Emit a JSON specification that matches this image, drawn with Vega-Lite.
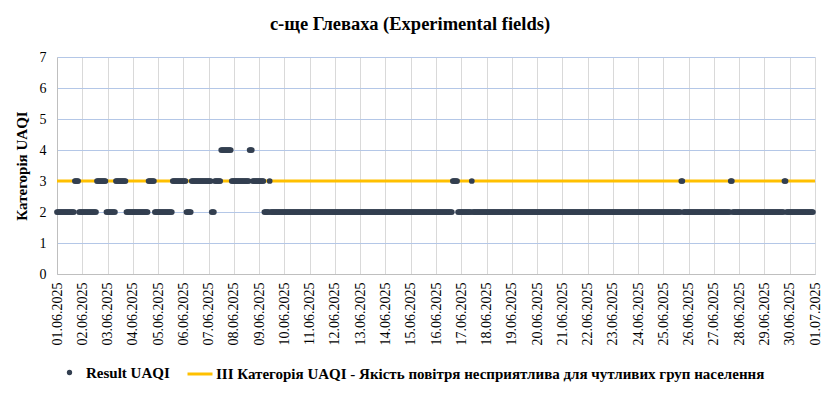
{
"$schema":"https://vega.github.io/schema/vega-lite/v6.json",
"width":758,"height":217,
"autosize":"none",
"padding":{"left":57,"top":57,"right":17,"bottom":120},
"background":"#ffffff",
"title":{"text":"с-ще Глеваха (Experimental fields)","font":"Liberation Serif","fontSize":18.5,"fontWeight":"bold","color":"#000000","offset":17,"dx":-26},
"config":{"view":{"stroke":null},"font":"Liberation Serif",
 "legend":{"labelFont":"Liberation Serif","labelFontWeight":"bold","labelFontSize":15,"labelColor":"#000000","labelLimit":700,"orient":"bottom","direction":"horizontal","offset":15,"symbolOpacity":1},
 "axisY":{"values":[0,1,2,3,4,5,6,7],"labelOverlap":false,"grid":true,"gridColor":"#b4c7e7","domainColor":"#bfbfbf","ticks":false,"labelPadding":11,"labelFont":"Liberation Serif","labelFontSize":14,"labelColor":"#000000","titleFont":"Liberation Serif","titleFontSize":15,"titleFontWeight":"bold","titleColor":"#000000","titlePadding":10}},
"layer":[
{"data":{"values":[{}]},
 "mark":{"type":"rule","strokeWidth":3,"color":"#ffc000"},
 "encoding":{"y":{"datum":3,"type":"quantitative","scale":{"domain":[0,7],"nice":false},"axis":{"title":"Категорія UAQI","values":[0,1,2,3,4,5,6,7]}}}},
{"data":{"format":{"parse":{"t":"date:'%Y%m%d%H'"}},"values":[
{"t":"2025060100","v":2},{"t":"2025060101","v":2},{"t":"2025060102","v":2},{"t":"2025060103","v":2},{"t":"2025060104","v":2},{"t":"2025060105","v":2},{"t":"2025060106","v":2},{"t":"2025060107","v":2},{"t":"2025060108","v":2},{"t":"2025060109","v":2},{"t":"2025060110","v":2},{"t":"2025060111","v":2},{"t":"2025060112","v":2},{"t":"2025060113","v":2},{"t":"2025060114","v":2},{"t":"2025060115","v":2},{"t":"2025060116","v":2},{"t":"2025060117","v":3},{"t":"2025060118","v":3},{"t":"2025060119","v":3},{"t":"2025060120","v":3},{"t":"2025060121","v":2},{"t":"2025060122","v":2},{"t":"2025060123","v":2},
{"t":"2025060200","v":2},{"t":"2025060201","v":2},{"t":"2025060202","v":2},{"t":"2025060203","v":2},{"t":"2025060204","v":2},{"t":"2025060205","v":2},{"t":"2025060206","v":2},{"t":"2025060207","v":2},{"t":"2025060208","v":2},{"t":"2025060209","v":2},{"t":"2025060210","v":2},{"t":"2025060211","v":2},{"t":"2025060212","v":2},{"t":"2025060213","v":2},{"t":"2025060214","v":3},{"t":"2025060215","v":3},{"t":"2025060216","v":3},{"t":"2025060217","v":3},{"t":"2025060218","v":3},{"t":"2025060219","v":3},{"t":"2025060220","v":3},{"t":"2025060221","v":3},{"t":"2025060222","v":3},{"t":"2025060223","v":2},
{"t":"2025060300","v":2},{"t":"2025060301","v":2},{"t":"2025060302","v":2},{"t":"2025060303","v":2},{"t":"2025060304","v":2},{"t":"2025060305","v":2},{"t":"2025060306","v":2},{"t":"2025060307","v":2},{"t":"2025060308","v":3},{"t":"2025060309","v":3},{"t":"2025060310","v":3},{"t":"2025060311","v":3},{"t":"2025060312","v":3},{"t":"2025060313","v":3},{"t":"2025060314","v":3},{"t":"2025060315","v":3},{"t":"2025060316","v":3},{"t":"2025060317","v":3},{"t":"2025060318","v":2},{"t":"2025060319","v":2},{"t":"2025060320","v":2},{"t":"2025060321","v":2},{"t":"2025060322","v":2},{"t":"2025060323","v":2},
{"t":"2025060400","v":2},{"t":"2025060401","v":2},{"t":"2025060402","v":2},{"t":"2025060403","v":2},{"t":"2025060404","v":2},{"t":"2025060405","v":2},{"t":"2025060406","v":2},{"t":"2025060407","v":2},{"t":"2025060408","v":2},{"t":"2025060409","v":2},{"t":"2025060410","v":2},{"t":"2025060411","v":2},{"t":"2025060412","v":2},{"t":"2025060413","v":2},{"t":"2025060414","v":2},{"t":"2025060415","v":3},{"t":"2025060416","v":3},{"t":"2025060417","v":3},{"t":"2025060418","v":3},{"t":"2025060419","v":3},{"t":"2025060420","v":3},{"t":"2025060421","v":2},{"t":"2025060422","v":2},{"t":"2025060423","v":2},
{"t":"2025060500","v":2},{"t":"2025060501","v":2},{"t":"2025060502","v":2},{"t":"2025060503","v":2},{"t":"2025060504","v":2},{"t":"2025060505","v":2},{"t":"2025060506","v":2},{"t":"2025060507","v":2},{"t":"2025060508","v":2},{"t":"2025060509","v":2},{"t":"2025060510","v":2},{"t":"2025060511","v":2},{"t":"2025060512","v":2},{"t":"2025060513","v":2},{"t":"2025060514","v":3},{"t":"2025060515","v":3},{"t":"2025060516","v":3},{"t":"2025060517","v":3},{"t":"2025060518","v":3},{"t":"2025060519","v":3},{"t":"2025060520","v":3},{"t":"2025060521","v":3},{"t":"2025060522","v":3},{"t":"2025060523","v":3},
{"t":"2025060600","v":3},{"t":"2025060601","v":3},{"t":"2025060602","v":3},{"t":"2025060603","v":2},{"t":"2025060604","v":2},{"t":"2025060605","v":2},{"t":"2025060606","v":2},{"t":"2025060607","v":2},{"t":"2025060608","v":3},{"t":"2025060609","v":3},{"t":"2025060610","v":3},{"t":"2025060611","v":3},{"t":"2025060612","v":3},{"t":"2025060613","v":3},{"t":"2025060614","v":3},{"t":"2025060615","v":3},{"t":"2025060616","v":3},{"t":"2025060617","v":3},{"t":"2025060618","v":3},{"t":"2025060619","v":3},{"t":"2025060620","v":3},{"t":"2025060621","v":3},{"t":"2025060622","v":3},{"t":"2025060623","v":3},
{"t":"2025060700","v":3},{"t":"2025060701","v":3},{"t":"2025060702","v":3},{"t":"2025060703","v":2},{"t":"2025060704","v":2},{"t":"2025060705","v":2},{"t":"2025060706","v":3},{"t":"2025060707","v":3},{"t":"2025060708","v":3},{"t":"2025060709","v":3},{"t":"2025060710","v":3},{"t":"2025060711","v":3},{"t":"2025060712","v":4},{"t":"2025060713","v":4},{"t":"2025060714","v":4},{"t":"2025060715","v":4},{"t":"2025060716","v":4},{"t":"2025060717","v":4},{"t":"2025060718","v":4},{"t":"2025060719","v":4},{"t":"2025060720","v":4},{"t":"2025060721","v":4},{"t":"2025060722","v":3},{"t":"2025060723","v":3},
{"t":"2025060800","v":3},{"t":"2025060801","v":3},{"t":"2025060802","v":3},{"t":"2025060803","v":3},{"t":"2025060804","v":3},{"t":"2025060805","v":3},{"t":"2025060806","v":3},{"t":"2025060807","v":3},{"t":"2025060808","v":3},{"t":"2025060809","v":3},{"t":"2025060810","v":3},{"t":"2025060811","v":3},{"t":"2025060812","v":3},{"t":"2025060813","v":3},{"t":"2025060814","v":3},{"t":"2025060815","v":4},{"t":"2025060816","v":4},{"t":"2025060817","v":4},{"t":"2025060818","v":3},{"t":"2025060819","v":3},{"t":"2025060820","v":3},{"t":"2025060821","v":3},{"t":"2025060822","v":3},{"t":"2025060823","v":3},
{"t":"2025060900","v":3},{"t":"2025060901","v":3},{"t":"2025060902","v":3},{"t":"2025060903","v":3},{"t":"2025060904","v":3},{"t":"2025060905","v":2},{"t":"2025060906","v":2},{"t":"2025060907","v":2},{"t":"2025060908","v":2},{"t":"2025060909","v":2},{"t":"2025060910","v":3},{"t":"2025060911","v":2},{"t":"2025060912","v":2},{"t":"2025060913","v":2},{"t":"2025060914","v":2},{"t":"2025060915","v":2},{"t":"2025060916","v":2},{"t":"2025060917","v":2},{"t":"2025060918","v":2},{"t":"2025060919","v":2},{"t":"2025060920","v":2},{"t":"2025060921","v":2},{"t":"2025060922","v":2},{"t":"2025060923","v":2},
{"t":"2025061000","v":2},{"t":"2025061001","v":2},{"t":"2025061002","v":2},{"t":"2025061003","v":2},{"t":"2025061004","v":2},{"t":"2025061005","v":2},{"t":"2025061006","v":2},{"t":"2025061007","v":2},{"t":"2025061008","v":2},{"t":"2025061009","v":2},{"t":"2025061010","v":2},{"t":"2025061011","v":2},{"t":"2025061012","v":2},{"t":"2025061013","v":2},{"t":"2025061014","v":2},{"t":"2025061015","v":2},{"t":"2025061016","v":2},{"t":"2025061017","v":2},{"t":"2025061018","v":2},{"t":"2025061019","v":2},{"t":"2025061020","v":2},{"t":"2025061021","v":2},{"t":"2025061022","v":2},{"t":"2025061023","v":2},
{"t":"2025061100","v":2},{"t":"2025061101","v":2},{"t":"2025061102","v":2},{"t":"2025061103","v":2},{"t":"2025061104","v":2},{"t":"2025061105","v":2},{"t":"2025061106","v":2},{"t":"2025061107","v":2},{"t":"2025061108","v":2},{"t":"2025061109","v":2},{"t":"2025061110","v":2},{"t":"2025061111","v":2},{"t":"2025061112","v":2},{"t":"2025061113","v":2},{"t":"2025061114","v":2},{"t":"2025061115","v":2},{"t":"2025061116","v":2},{"t":"2025061117","v":2},{"t":"2025061118","v":2},{"t":"2025061119","v":2},{"t":"2025061120","v":2},{"t":"2025061121","v":2},{"t":"2025061122","v":2},{"t":"2025061123","v":2},
{"t":"2025061200","v":2},{"t":"2025061201","v":2},{"t":"2025061202","v":2},{"t":"2025061203","v":2},{"t":"2025061204","v":2},{"t":"2025061205","v":2},{"t":"2025061206","v":2},{"t":"2025061207","v":2},{"t":"2025061208","v":2},{"t":"2025061209","v":2},{"t":"2025061210","v":2},{"t":"2025061211","v":2},{"t":"2025061212","v":2},{"t":"2025061213","v":2},{"t":"2025061214","v":2},{"t":"2025061215","v":2},{"t":"2025061216","v":2},{"t":"2025061217","v":2},{"t":"2025061218","v":2},{"t":"2025061219","v":2},{"t":"2025061220","v":2},{"t":"2025061221","v":2},{"t":"2025061222","v":2},{"t":"2025061223","v":2},
{"t":"2025061300","v":2},{"t":"2025061301","v":2},{"t":"2025061302","v":2},{"t":"2025061303","v":2},{"t":"2025061304","v":2},{"t":"2025061305","v":2},{"t":"2025061306","v":2},{"t":"2025061307","v":2},{"t":"2025061308","v":2},{"t":"2025061309","v":2},{"t":"2025061310","v":2},{"t":"2025061311","v":2},{"t":"2025061312","v":2},{"t":"2025061313","v":2},{"t":"2025061314","v":2},{"t":"2025061315","v":2},{"t":"2025061316","v":2},{"t":"2025061317","v":2},{"t":"2025061318","v":2},{"t":"2025061319","v":2},{"t":"2025061320","v":2},{"t":"2025061321","v":2},{"t":"2025061322","v":2},{"t":"2025061323","v":2},
{"t":"2025061400","v":2},{"t":"2025061401","v":2},{"t":"2025061402","v":2},{"t":"2025061403","v":2},{"t":"2025061404","v":2},{"t":"2025061405","v":2},{"t":"2025061406","v":2},{"t":"2025061407","v":2},{"t":"2025061408","v":2},{"t":"2025061409","v":2},{"t":"2025061410","v":2},{"t":"2025061411","v":2},{"t":"2025061412","v":2},{"t":"2025061413","v":2},{"t":"2025061414","v":2},{"t":"2025061415","v":2},{"t":"2025061416","v":2},{"t":"2025061417","v":2},{"t":"2025061418","v":2},{"t":"2025061419","v":2},{"t":"2025061420","v":2},{"t":"2025061421","v":2},{"t":"2025061422","v":2},{"t":"2025061423","v":2},
{"t":"2025061500","v":2},{"t":"2025061501","v":2},{"t":"2025061502","v":2},{"t":"2025061503","v":2},{"t":"2025061504","v":2},{"t":"2025061505","v":2},{"t":"2025061506","v":2},{"t":"2025061507","v":2},{"t":"2025061508","v":2},{"t":"2025061509","v":2},{"t":"2025061510","v":2},{"t":"2025061511","v":2},{"t":"2025061512","v":2},{"t":"2025061513","v":2},{"t":"2025061514","v":2},{"t":"2025061515","v":2},{"t":"2025061516","v":2},{"t":"2025061517","v":2},{"t":"2025061518","v":2},{"t":"2025061519","v":2},{"t":"2025061520","v":2},{"t":"2025061521","v":2},{"t":"2025061522","v":2},{"t":"2025061523","v":2},
{"t":"2025061600","v":2},{"t":"2025061601","v":2},{"t":"2025061602","v":2},{"t":"2025061603","v":2},{"t":"2025061604","v":2},{"t":"2025061605","v":2},{"t":"2025061606","v":2},{"t":"2025061607","v":2},{"t":"2025061608","v":2},{"t":"2025061609","v":2},{"t":"2025061610","v":2},{"t":"2025061611","v":2},{"t":"2025061612","v":2},{"t":"2025061613","v":2},{"t":"2025061614","v":2},{"t":"2025061615","v":2},{"t":"2025061616","v":3},{"t":"2025061617","v":3},{"t":"2025061618","v":3},{"t":"2025061619","v":3},{"t":"2025061620","v":3},{"t":"2025061621","v":2},{"t":"2025061622","v":2},{"t":"2025061623","v":2},
{"t":"2025061700","v":2},{"t":"2025061701","v":2},{"t":"2025061702","v":2},{"t":"2025061703","v":2},{"t":"2025061704","v":2},{"t":"2025061705","v":2},{"t":"2025061706","v":2},{"t":"2025061707","v":2},{"t":"2025061708","v":2},{"t":"2025061709","v":2},{"t":"2025061710","v":3},{"t":"2025061711","v":2},{"t":"2025061712","v":2},{"t":"2025061713","v":2},{"t":"2025061714","v":2},{"t":"2025061715","v":2},{"t":"2025061716","v":2},{"t":"2025061717","v":2},{"t":"2025061718","v":2},{"t":"2025061719","v":2},{"t":"2025061720","v":2},{"t":"2025061721","v":2},{"t":"2025061722","v":2},{"t":"2025061723","v":2},
{"t":"2025061800","v":2},{"t":"2025061801","v":2},{"t":"2025061802","v":2},{"t":"2025061803","v":2},{"t":"2025061804","v":2},{"t":"2025061805","v":2},{"t":"2025061806","v":2},{"t":"2025061807","v":2},{"t":"2025061808","v":2},{"t":"2025061809","v":2},{"t":"2025061810","v":2},{"t":"2025061811","v":2},{"t":"2025061812","v":2},{"t":"2025061813","v":2},{"t":"2025061814","v":2},{"t":"2025061815","v":2},{"t":"2025061816","v":2},{"t":"2025061817","v":2},{"t":"2025061818","v":2},{"t":"2025061819","v":2},{"t":"2025061820","v":2},{"t":"2025061821","v":2},{"t":"2025061822","v":2},{"t":"2025061823","v":2},
{"t":"2025061900","v":2},{"t":"2025061901","v":2},{"t":"2025061902","v":2},{"t":"2025061903","v":2},{"t":"2025061904","v":2},{"t":"2025061905","v":2},{"t":"2025061906","v":2},{"t":"2025061907","v":2},{"t":"2025061908","v":2},{"t":"2025061909","v":2},{"t":"2025061910","v":2},{"t":"2025061911","v":2},{"t":"2025061912","v":2},{"t":"2025061913","v":2},{"t":"2025061914","v":2},{"t":"2025061915","v":2},{"t":"2025061916","v":2},{"t":"2025061917","v":2},{"t":"2025061918","v":2},{"t":"2025061919","v":2},{"t":"2025061920","v":2},{"t":"2025061921","v":2},{"t":"2025061922","v":2},{"t":"2025061923","v":2},
{"t":"2025062000","v":2},{"t":"2025062001","v":2},{"t":"2025062002","v":2},{"t":"2025062003","v":2},{"t":"2025062004","v":2},{"t":"2025062005","v":2},{"t":"2025062006","v":2},{"t":"2025062007","v":2},{"t":"2025062008","v":2},{"t":"2025062009","v":2},{"t":"2025062010","v":2},{"t":"2025062011","v":2},{"t":"2025062012","v":2},{"t":"2025062013","v":2},{"t":"2025062014","v":2},{"t":"2025062015","v":2},{"t":"2025062016","v":2},{"t":"2025062017","v":2},{"t":"2025062018","v":2},{"t":"2025062019","v":2},{"t":"2025062020","v":2},{"t":"2025062021","v":2},{"t":"2025062022","v":2},{"t":"2025062023","v":2},
{"t":"2025062100","v":2},{"t":"2025062101","v":2},{"t":"2025062102","v":2},{"t":"2025062103","v":2},{"t":"2025062104","v":2},{"t":"2025062105","v":2},{"t":"2025062106","v":2},{"t":"2025062107","v":2},{"t":"2025062108","v":2},{"t":"2025062109","v":2},{"t":"2025062110","v":2},{"t":"2025062111","v":2},{"t":"2025062112","v":2},{"t":"2025062113","v":2},{"t":"2025062114","v":2},{"t":"2025062115","v":2},{"t":"2025062116","v":2},{"t":"2025062117","v":2},{"t":"2025062118","v":2},{"t":"2025062119","v":2},{"t":"2025062120","v":2},{"t":"2025062121","v":2},{"t":"2025062122","v":2},{"t":"2025062123","v":2},
{"t":"2025062200","v":2},{"t":"2025062201","v":2},{"t":"2025062202","v":2},{"t":"2025062203","v":2},{"t":"2025062204","v":2},{"t":"2025062205","v":2},{"t":"2025062206","v":2},{"t":"2025062207","v":2},{"t":"2025062208","v":2},{"t":"2025062209","v":2},{"t":"2025062210","v":2},{"t":"2025062211","v":2},{"t":"2025062212","v":2},{"t":"2025062213","v":2},{"t":"2025062214","v":2},{"t":"2025062215","v":2},{"t":"2025062216","v":2},{"t":"2025062217","v":2},{"t":"2025062218","v":2},{"t":"2025062219","v":2},{"t":"2025062220","v":2},{"t":"2025062221","v":2},{"t":"2025062222","v":2},{"t":"2025062223","v":2},
{"t":"2025062300","v":2},{"t":"2025062301","v":2},{"t":"2025062302","v":2},{"t":"2025062303","v":2},{"t":"2025062304","v":2},{"t":"2025062305","v":2},{"t":"2025062306","v":2},{"t":"2025062307","v":2},{"t":"2025062308","v":2},{"t":"2025062309","v":2},{"t":"2025062310","v":2},{"t":"2025062311","v":2},{"t":"2025062312","v":2},{"t":"2025062313","v":2},{"t":"2025062314","v":2},{"t":"2025062315","v":2},{"t":"2025062316","v":2},{"t":"2025062317","v":2},{"t":"2025062318","v":2},{"t":"2025062319","v":2},{"t":"2025062320","v":2},{"t":"2025062321","v":2},{"t":"2025062322","v":2},{"t":"2025062323","v":2},
{"t":"2025062400","v":2},{"t":"2025062401","v":2},{"t":"2025062402","v":2},{"t":"2025062403","v":2},{"t":"2025062404","v":2},{"t":"2025062405","v":2},{"t":"2025062406","v":2},{"t":"2025062407","v":2},{"t":"2025062408","v":2},{"t":"2025062409","v":2},{"t":"2025062410","v":2},{"t":"2025062411","v":2},{"t":"2025062412","v":2},{"t":"2025062413","v":2},{"t":"2025062414","v":2},{"t":"2025062415","v":2},{"t":"2025062416","v":2},{"t":"2025062417","v":2},{"t":"2025062418","v":2},{"t":"2025062419","v":2},{"t":"2025062420","v":2},{"t":"2025062421","v":2},{"t":"2025062422","v":2},{"t":"2025062423","v":2},
{"t":"2025062500","v":2},{"t":"2025062501","v":2},{"t":"2025062502","v":2},{"t":"2025062503","v":2},{"t":"2025062504","v":2},{"t":"2025062505","v":2},{"t":"2025062506","v":2},{"t":"2025062507","v":2},{"t":"2025062508","v":2},{"t":"2025062509","v":2},{"t":"2025062510","v":2},{"t":"2025062511","v":2},{"t":"2025062512","v":2},{"t":"2025062513","v":2},{"t":"2025062514","v":2},{"t":"2025062515","v":2},{"t":"2025062516","v":2},{"t":"2025062517","v":3},{"t":"2025062518","v":3},{"t":"2025062519","v":2},{"t":"2025062520","v":2},{"t":"2025062521","v":2},{"t":"2025062522","v":2},{"t":"2025062523","v":2},
{"t":"2025062600","v":2},{"t":"2025062601","v":2},{"t":"2025062602","v":2},{"t":"2025062603","v":2},{"t":"2025062604","v":2},{"t":"2025062605","v":2},{"t":"2025062606","v":2},{"t":"2025062607","v":2},{"t":"2025062608","v":2},{"t":"2025062609","v":2},{"t":"2025062610","v":2},{"t":"2025062611","v":2},{"t":"2025062612","v":2},{"t":"2025062613","v":2},{"t":"2025062614","v":2},{"t":"2025062615","v":2},{"t":"2025062616","v":2},{"t":"2025062617","v":2},{"t":"2025062618","v":2},{"t":"2025062619","v":2},{"t":"2025062620","v":2},{"t":"2025062621","v":2},{"t":"2025062622","v":2},{"t":"2025062623","v":2},
{"t":"2025062700","v":2},{"t":"2025062701","v":2},{"t":"2025062702","v":2},{"t":"2025062703","v":2},{"t":"2025062704","v":2},{"t":"2025062705","v":2},{"t":"2025062706","v":2},{"t":"2025062707","v":2},{"t":"2025062708","v":2},{"t":"2025062709","v":2},{"t":"2025062710","v":2},{"t":"2025062711","v":2},{"t":"2025062712","v":2},{"t":"2025062713","v":2},{"t":"2025062714","v":2},{"t":"2025062715","v":2},{"t":"2025062716","v":3},{"t":"2025062717","v":3},{"t":"2025062718","v":2},{"t":"2025062719","v":2},{"t":"2025062720","v":2},{"t":"2025062721","v":2},{"t":"2025062722","v":2},{"t":"2025062723","v":2},
{"t":"2025062800","v":2},{"t":"2025062801","v":2},{"t":"2025062802","v":2},{"t":"2025062803","v":2},{"t":"2025062804","v":2},{"t":"2025062805","v":2},{"t":"2025062806","v":2},{"t":"2025062807","v":2},{"t":"2025062808","v":2},{"t":"2025062809","v":2},{"t":"2025062810","v":2},{"t":"2025062811","v":2},{"t":"2025062812","v":2},{"t":"2025062813","v":2},{"t":"2025062814","v":2},{"t":"2025062815","v":2},{"t":"2025062816","v":2},{"t":"2025062817","v":2},{"t":"2025062818","v":2},{"t":"2025062819","v":2},{"t":"2025062820","v":2},{"t":"2025062821","v":2},{"t":"2025062822","v":2},{"t":"2025062823","v":2},
{"t":"2025062900","v":2},{"t":"2025062901","v":2},{"t":"2025062902","v":2},{"t":"2025062903","v":2},{"t":"2025062904","v":2},{"t":"2025062905","v":2},{"t":"2025062906","v":2},{"t":"2025062907","v":2},{"t":"2025062908","v":2},{"t":"2025062909","v":2},{"t":"2025062910","v":2},{"t":"2025062911","v":2},{"t":"2025062912","v":2},{"t":"2025062913","v":2},{"t":"2025062914","v":2},{"t":"2025062915","v":2},{"t":"2025062916","v":2},{"t":"2025062917","v":2},{"t":"2025062918","v":2},{"t":"2025062919","v":3},{"t":"2025062920","v":3},{"t":"2025062921","v":2},{"t":"2025062922","v":2},{"t":"2025062923","v":2},
{"t":"2025063000","v":2},{"t":"2025063001","v":2},{"t":"2025063002","v":2},{"t":"2025063003","v":2},{"t":"2025063004","v":2},{"t":"2025063005","v":2},{"t":"2025063006","v":2},{"t":"2025063007","v":2},{"t":"2025063008","v":2},{"t":"2025063009","v":2},{"t":"2025063010","v":2},{"t":"2025063011","v":2},{"t":"2025063012","v":2},{"t":"2025063013","v":2},{"t":"2025063014","v":2},{"t":"2025063015","v":2},{"t":"2025063016","v":2},{"t":"2025063017","v":2},{"t":"2025063018","v":2},{"t":"2025063019","v":2},{"t":"2025063020","v":2},{"t":"2025063021","v":2},{"t":"2025063022","v":2}
]},
 "mark":{"type":"circle","size":33,"opacity":1},
 "encoding":{
  "x":{"field":"t","type":"temporal",
   "scale":{"domain":[{"year":2025,"month":6,"date":1,"hours":0},{"year":2025,"month":7,"date":1,"hours":0}]},
   "axis":{"title":null,"format":"%d.%m.%Y","labelAngle":270,"labelFont":"Liberation Serif","labelFontSize":14,"labelColor":"#000000","tickCount":{"interval":"day","step":1},"grid":true,"gridColor":"#d9d9d9","gridWidth":1,"domainColor":"#bfbfbf","ticks":false,"labelPadding":8,"labelOverlap":false,"labelFlush":false,"labelBound":false}},
  "y":{"field":"v","type":"quantitative",
   "scale":{"domain":[0,7],"nice":false},
   "axis":{"title":"Категорія UAQI","values":[0,1,2,3,4,5,6,7]}},
  "fill":{"datum":"Result UAQI","type":"nominal",
   "scale":{"domain":["Result UAQI"],"range":["#333f50"]},
   "legend":{"title":null,"symbolType":"circle","symbolSize":28,"symbolOffset":0,"labelOffset":9,"padding":5}}
 }},
{"data":{"values":[{}]},
 "mark":{"type":"rule","strokeWidth":3,"opacity":0},
 "encoding":{"y":{"datum":3,"type":"quantitative","scale":{"domain":[0,7],"nice":false},"axis":{"title":"Категорія UAQI","values":[0,1,2,3,4,5,6,7]}},
  "stroke":{"datum":"III Категорія UAQI - Якість повітря несприятлива для чутливих груп населення","type":"nominal",
   "scale":{"domain":["III Категорія UAQI - Якість повітря несприятлива для чутливих груп населення"],"range":["#ffc000"]},
   "legend":{"title":null,"symbolType":"stroke","symbolSize":625,"symbolStrokeWidth":3,"symbolOpacity":1,"symbolOffset":3,"labelOffset":2}}}}
]
}
